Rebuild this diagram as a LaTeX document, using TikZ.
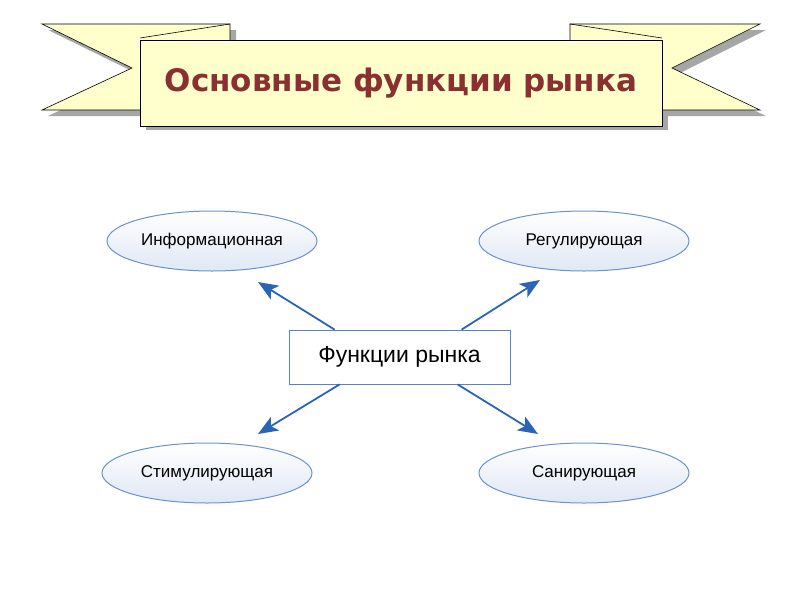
\documentclass[tikz,border=0pt]{standalone}
\usepackage{fontspec}
\setmainfont{Liberation Sans}
\newfontfamily\titlefont{DejaVu Sans}
\usetikzlibrary{shapes.geometric,arrows.meta}
\definecolor{ban}{HTML}{FFFFCC}
\definecolor{ttl}{HTML}{8B3030}
\definecolor{arr}{HTML}{2A64B8}
\tikzset{
 flag/.style={fill=ban,draw=black,line width=0.6pt},
 shad/.style={fill=gray!70,draw=none},
 oval/.style={ellipse,draw=arr!70,line width=1pt,top color=white,bottom color=arr!15,minimum width=210pt,minimum height=60pt,font=\fontsize{17}{19}\selectfont},
 con/.style={draw=arr,line width=1.8pt,-{Stealth[length=20pt,width=16pt,inset=5pt]}}
}
\begin{document}
\begin{tikzpicture}[x=1pt,y=-1pt]
\useasboundingbox (0,0) rectangle (800,600);
\fill[white] (0,0) rectangle (800,600);
% shadows
\fill[shad] (48,30)--(236,30)--(236,116)--(48,116)--(138,74)--cycle;
\fill[shad] (576,30)--(766,30)--(678,74)--(766,116)--(576,116)--cycle;
\fill[shad] (146,44) rectangle (668,130);
% tails
\draw[flag] (42,24)--(230,24)--(230,110)--(42,110)--(132,68)--cycle;
\draw[flag] (570,24)--(760,24)--(672,68)--(760,110)--(570,110)--cycle;
\draw[flag] (230,24)--(140,38);
\draw[flag] (570,24)--(662,38);
% front
\node[flag,draw,minimum width=522pt,minimum height=86pt,inner sep=0pt,text=ttl,font=\titlefont\bfseries\fontsize{31}{34}\selectfont] (title) at (401,83) {Основные функции рынка};
% diagram
\node[draw=arr!80,line width=0.8pt,minimum width=221pt,minimum height=54pt,font=\fontsize{23}{26}\selectfont] (c) at (399.5,357) {Функции рынка};
\node[oval] (a) at (212,241) {Информационная};
\node[oval] (b) at (584,241) {Регулирующая};
\node[oval] (d) at (207,473) {Стимулирующая};
\node[oval] (e) at (584,473) {Санирующая};
\draw[con] (c.north west)++(46,0) -- (258,282);
\draw[con] (c.north west)++(173,0) -- (540,280);
\draw[con] (c.south west)++(51,0) -- (258,434);
\draw[con] (c.south west)++(169,0) -- (538,434);
\end{tikzpicture}
\end{document}
